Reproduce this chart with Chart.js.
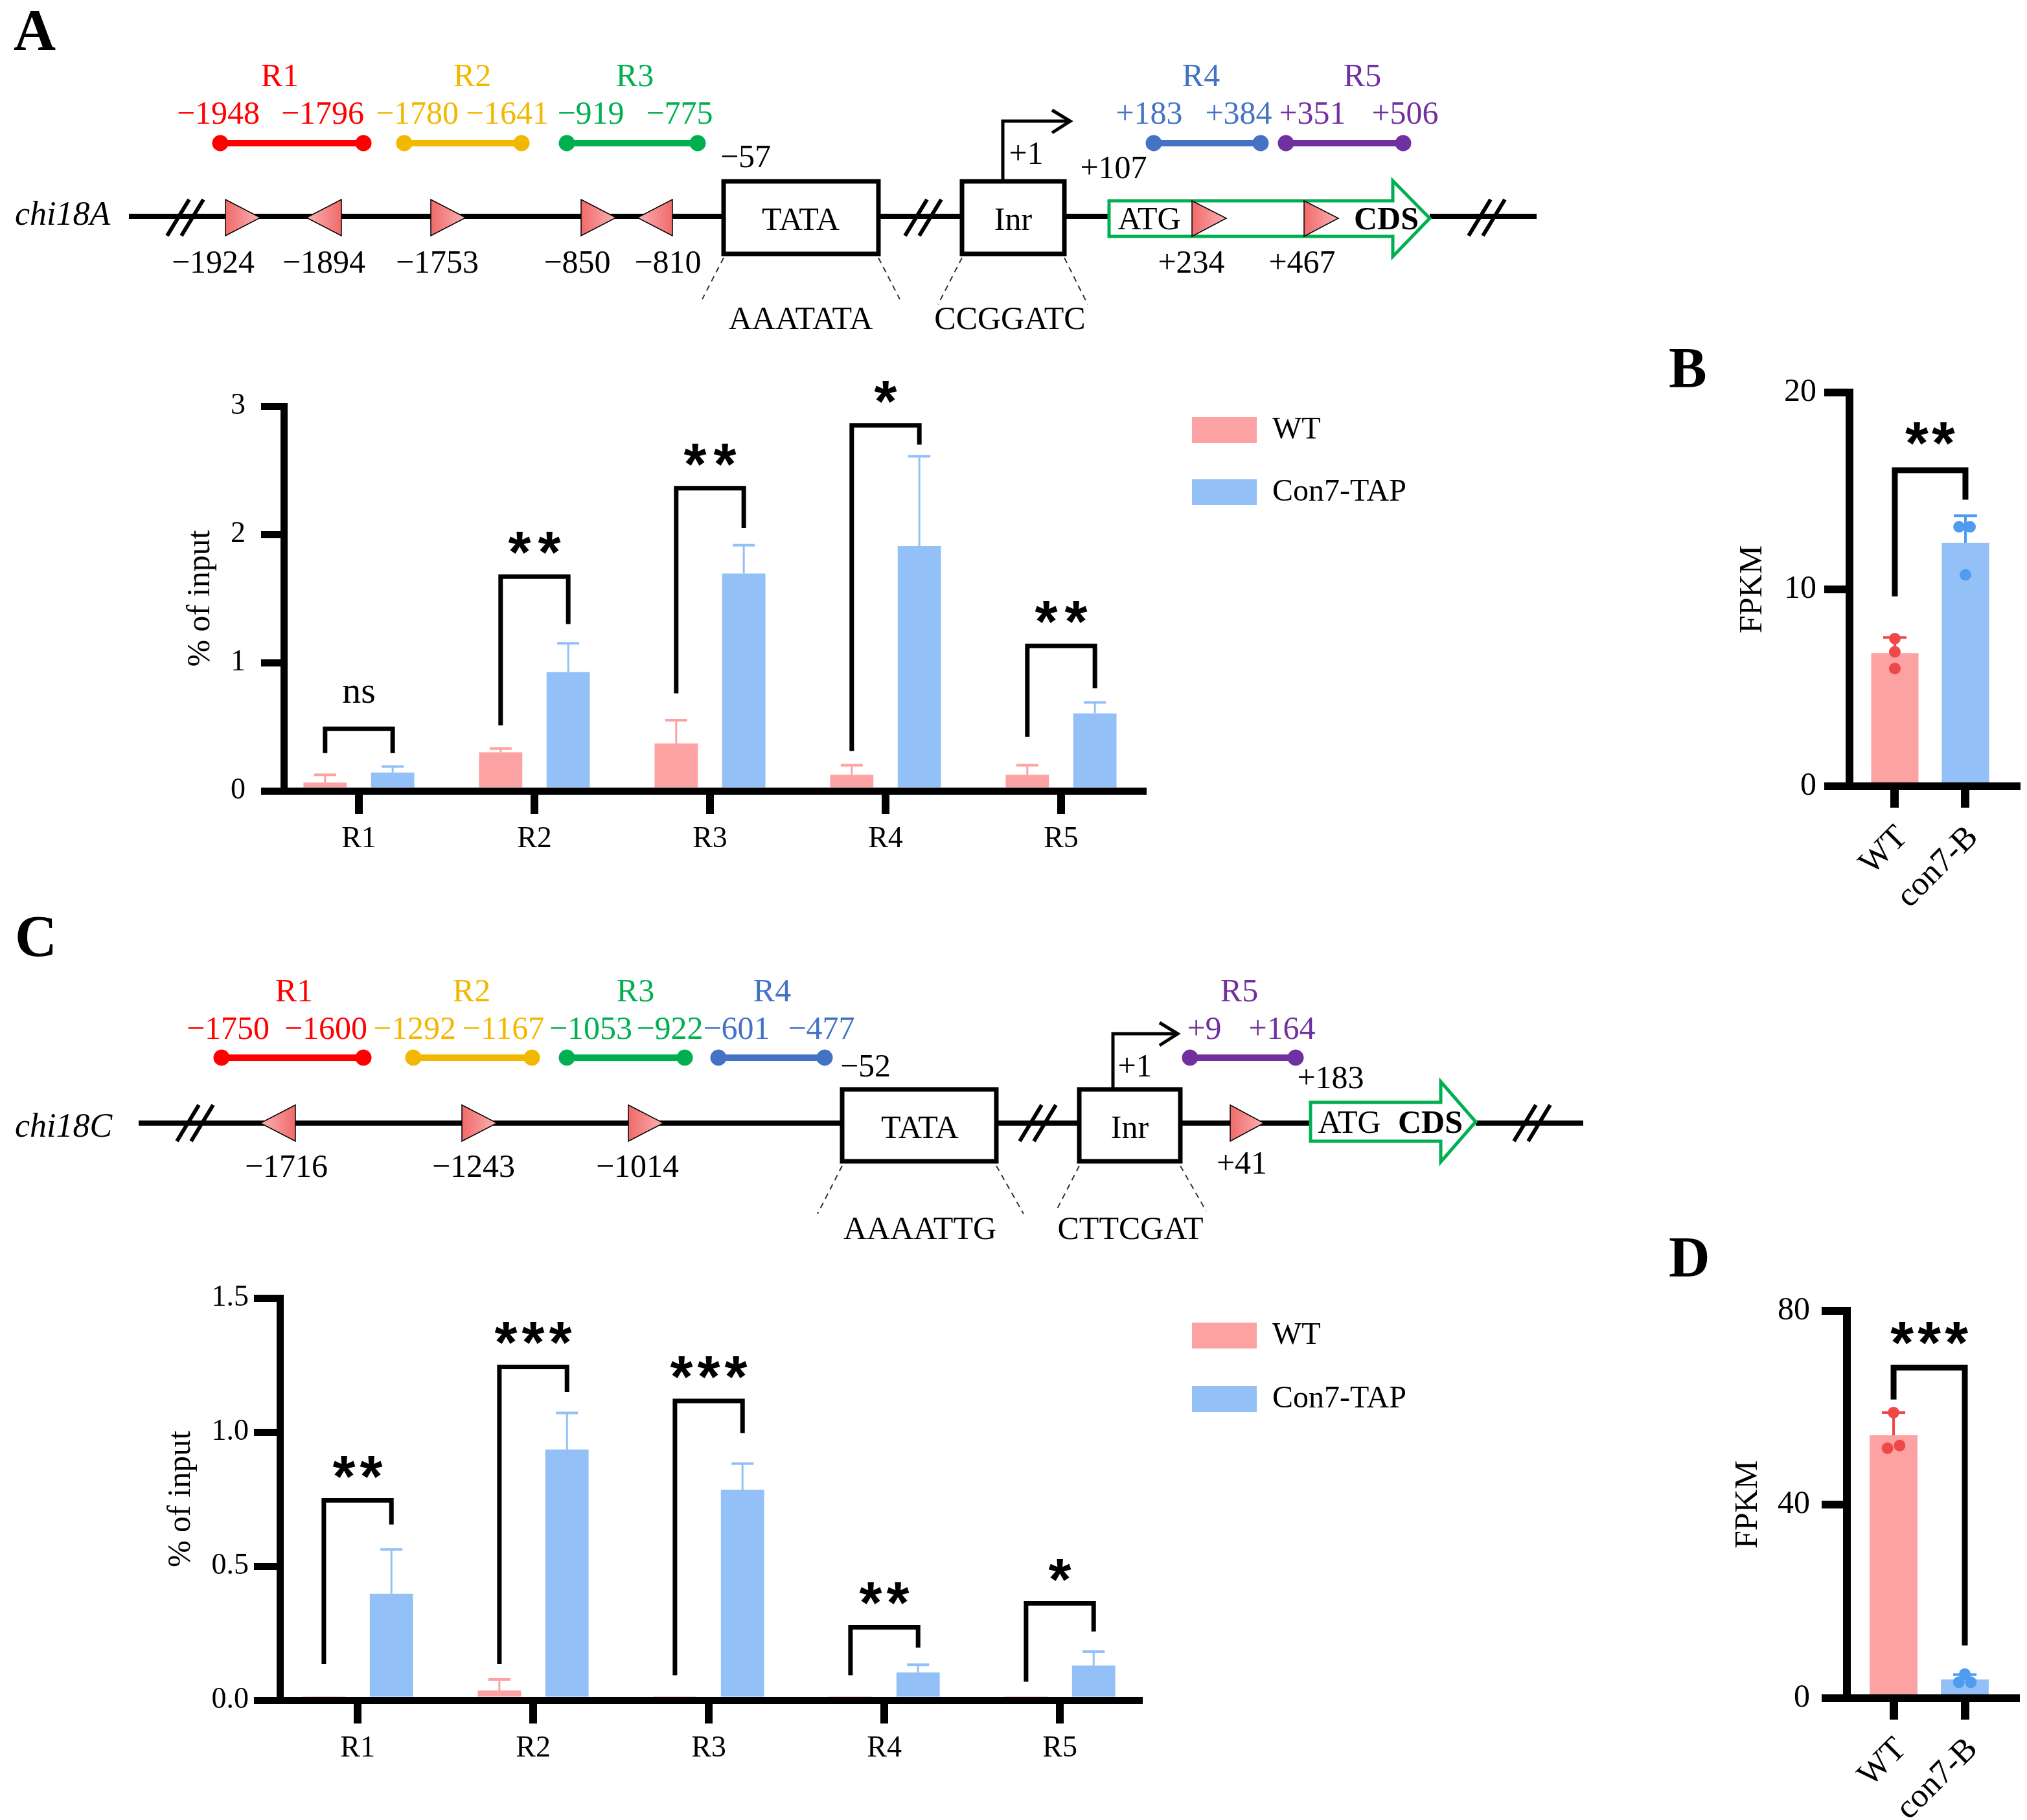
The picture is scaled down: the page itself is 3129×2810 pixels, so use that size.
<!DOCTYPE html>
<html><head><meta charset="utf-8">
<script src="https://cdn.jsdelivr.net/npm/chart.js@4/dist/chart.umd.min.js"></script>
<style>
html,body{margin:0;padding:0;background:#fff;}
#page{position:relative;width:3129px;height:2810px;background:#fff;overflow:hidden;}
canvas{position:absolute;}
#diag{position:absolute;left:0;top:0;pointer-events:none;}
</style></head><body>
<div id="page">
<canvas id="cA" width="2200" height="830" style="left:0px;top:540px;width:2200px;height:830px"></canvas>
<canvas id="cC" width="2200" height="830" style="left:0px;top:1940px;width:2200px;height:830px"></canvas>
<canvas id="cB" width="529" height="920" style="left:2600px;top:540px;width:529px;height:920px"></canvas>
<canvas id="cD" width="529" height="890" style="left:2600px;top:1920px;width:529px;height:890px"></canvas>
<svg id="diag" width="3129" height="2810" viewBox="0 0 3129 2810" font-family="'Liberation Serif','Times New Roman',serif" font-size="50">
<defs>
<linearGradient id="gR" x1="0" x2="1" y1="0" y2="0"><stop offset="0" stop-color="#F06A6A"/><stop offset="1" stop-color="#FBB2B2"/></linearGradient>
<linearGradient id="gL" x1="1" x2="0" y1="0" y2="0"><stop offset="0" stop-color="#F06A6A"/><stop offset="1" stop-color="#FBB2B2"/></linearGradient>
</defs>
<!-- ===== Panel A diagram ===== -->
<text x="21" y="77" font-size="90" font-weight="bold">A</text>
<text x="23" y="347" font-size="52" font-style="italic">chi18A</text>
<g text-anchor="middle">
<text x="432" y="133" fill="#FF0000">R1</text>
<text x="729" y="133" fill="#F2B800">R2</text>
<text x="980" y="133" fill="#00B050">R3</text>
<text x="1854" y="133" fill="#4472C4">R4</text>
<text x="2103" y="133" fill="#7030A0">R5</text>
<text x="337" y="191" fill="#FF0000">−1948</text>
<text x="498" y="191" fill="#FF0000">−1796</text>
<text x="644" y="191" fill="#F2B800">−1780</text>
<text x="783" y="191" fill="#F2B800">−1641</text>
<text x="912" y="191" fill="#00B050">−919</text>
<text x="1049" y="191" fill="#00B050">−775</text>
<text x="1774" y="191" fill="#4472C4">+183</text>
<text x="1912" y="191" fill="#4472C4">+384</text>
<text x="2026" y="191" fill="#7030A0">+351</text>
<text x="2169" y="191" fill="#7030A0">+506</text>
<text x="1151" y="258">−57</text>
<text x="1584" y="253">+1</text>
<text x="1719" y="275">+107</text>
<text x="329" y="421">−1924</text>
<text x="500" y="421">−1894</text>
<text x="675" y="421">−1753</text>
<text x="891" y="421">−850</text>
<text x="1031" y="421">−810</text>
<text x="1839" y="421">+234</text>
<text x="2010" y="421">+467</text>
<text x="1236" y="508">AAATATA</text>
<text x="1559" y="508">CCGGATC</text>
</g>
<g stroke-width="10">
<line x1="340" y1="221" x2="561" y2="221" stroke="#FF0000"/><circle cx="340" cy="221" r="12.5" fill="#FF0000"/><circle cx="561" cy="221" r="12.5" fill="#FF0000"/>
<line x1="624" y1="221" x2="805" y2="221" stroke="#F2B800"/><circle cx="624" cy="221" r="12.5" fill="#F2B800"/><circle cx="805" cy="221" r="12.5" fill="#F2B800"/>
<line x1="875" y1="221" x2="1077" y2="221" stroke="#00B050"/><circle cx="875" cy="221" r="12.5" fill="#00B050"/><circle cx="1077" cy="221" r="12.5" fill="#00B050"/>
<line x1="1781" y1="221" x2="1946" y2="221" stroke="#4472C4"/><circle cx="1781" cy="221" r="12.5" fill="#4472C4"/><circle cx="1946" cy="221" r="12.5" fill="#4472C4"/>
<line x1="1985" y1="221" x2="2166" y2="221" stroke="#7030A0"/><circle cx="1985" cy="221" r="12.5" fill="#7030A0"/><circle cx="2166" cy="221" r="12.5" fill="#7030A0"/>
</g>
<g stroke="#000" stroke-width="8">
<line x1="199" y1="334" x2="1117" y2="334"/>
<line x1="1356" y1="334" x2="1485" y2="334"/>
<line x1="1643" y1="334" x2="1712" y2="334"/>
<line x1="2207" y1="334" x2="2372" y2="334"/>
</g>
<g stroke="#000" stroke-width="6">
<line x1="258" y1="364" x2="292" y2="308"/><line x1="280" y1="364" x2="314" y2="308"/>
<line x1="1397" y1="364" x2="1431" y2="308"/><line x1="1419" y1="364" x2="1453" y2="308"/>
<line x1="2267" y1="364" x2="2301" y2="308"/><line x1="2289" y1="364" x2="2323" y2="308"/>
</g>
<g stroke="#000" stroke-width="1.5">
<polygon points="348,308 348,364 402,336" fill="url(#gR)"/>
<polygon points="527,308 527,364 473,336" fill="url(#gL)"/>
<polygon points="665,308 665,364 719,336" fill="url(#gR)"/>
<polygon points="897,308 897,364 951,336" fill="url(#gR)"/>
<polygon points="1038,308 1038,364 984,336" fill="url(#gL)"/>
</g>
<rect x="1117" y="280" width="239" height="112" fill="#fff" stroke="#000" stroke-width="7"/>
<rect x="1485" y="280" width="158" height="112" fill="#fff" stroke="#000" stroke-width="7"/>
<g text-anchor="middle">
<text x="1236" y="355">TATA</text>
<text x="1564" y="355">Inr</text>
</g>
<polyline points="1548,280 1548,187 1652,187" fill="none" stroke="#000" stroke-width="5"/>
<polyline points="1624,170 1652,187 1624,205" fill="none" stroke="#000" stroke-width="5"/>
<polygon points="1712,310 2150,310 2150,279 2207,337 2150,396 2150,365 1712,365" fill="#fff" stroke="#00B050" stroke-width="5"/>
<g stroke="#000" stroke-width="1.5">
<polygon points="1840,310 1840,365 1893,337" fill="url(#gR)"/>
<polygon points="2013,310 2013,365 2066,337" fill="url(#gR)"/>
</g>
<text x="1774" y="354" text-anchor="middle">ATG</text>
<text x="2140" y="354" text-anchor="middle" font-weight="bold">CDS</text>
<g stroke="#333" stroke-width="2" stroke-dasharray="9,7">
<line x1="1117" y1="398" x2="1084" y2="462"/>
<line x1="1356" y1="398" x2="1389" y2="462"/>
<line x1="1485" y1="398" x2="1448" y2="470"/>
<line x1="1643" y1="398" x2="1679" y2="470"/>
</g>
<!-- ===== Panel B / D letters ===== -->
<text x="2576" y="597" font-size="88" font-weight="bold">B</text>
<text x="2576" y="1970" font-size="88" font-weight="bold">D</text>
<!-- ===== Panel C diagram ===== -->
<text x="23" y="1476" font-size="90" font-weight="bold">C</text>
<text x="23" y="1755" font-size="52" font-style="italic">chi18C</text>
<g text-anchor="middle">
<text x="454" y="1546" fill="#FF0000">R1</text>
<text x="728" y="1546" fill="#F2B800">R2</text>
<text x="981" y="1546" fill="#00B050">R3</text>
<text x="1192" y="1546" fill="#4472C4">R4</text>
<text x="1913" y="1546" fill="#7030A0">R5</text>
<text x="352" y="1604" fill="#FF0000">−1750</text>
<text x="503" y="1604" fill="#FF0000">−1600</text>
<text x="640" y="1604" fill="#F2B800">−1292</text>
<text x="777" y="1604" fill="#F2B800">−1167</text>
<text x="912" y="1604" fill="#00B050">−1053</text>
<text x="1034" y="1604" fill="#00B050">−922</text>
<text x="1137" y="1604" fill="#4472C4">−601</text>
<text x="1268" y="1604" fill="#4472C4">−477</text>
<text x="1859" y="1604" fill="#7030A0">+9</text>
<text x="1979" y="1604" fill="#7030A0">+164</text>
<text x="1336" y="1662">−52</text>
<text x="1752" y="1662">+1</text>
<text x="2054" y="1680">+183</text>
<text x="442" y="1817">−1716</text>
<text x="731" y="1817">−1243</text>
<text x="984" y="1817">−1014</text>
<text x="1917" y="1812">+41</text>
<text x="1420" y="1913">AAAATTG</text>
<text x="1745" y="1913">CTTCGAT</text>
</g>
<g stroke-width="10">
<line x1="342" y1="1633" x2="561" y2="1633" stroke="#FF0000"/><circle cx="342" cy="1633" r="12.5" fill="#FF0000"/><circle cx="561" cy="1633" r="12.5" fill="#FF0000"/>
<line x1="638" y1="1633" x2="821" y2="1633" stroke="#F2B800"/><circle cx="638" cy="1633" r="12.5" fill="#F2B800"/><circle cx="821" cy="1633" r="12.5" fill="#F2B800"/>
<line x1="875" y1="1633" x2="1057" y2="1633" stroke="#00B050"/><circle cx="875" cy="1633" r="12.5" fill="#00B050"/><circle cx="1057" cy="1633" r="12.5" fill="#00B050"/>
<line x1="1109" y1="1633" x2="1273" y2="1633" stroke="#4472C4"/><circle cx="1109" cy="1633" r="12.5" fill="#4472C4"/><circle cx="1273" cy="1633" r="12.5" fill="#4472C4"/>
<line x1="1837" y1="1633" x2="2000" y2="1633" stroke="#7030A0"/><circle cx="1837" cy="1633" r="12.5" fill="#7030A0"/><circle cx="2000" cy="1633" r="12.5" fill="#7030A0"/>
</g>
<g stroke="#000" stroke-width="8">
<line x1="214" y1="1734" x2="1300" y2="1734"/>
<line x1="1538" y1="1734" x2="1666" y2="1734"/>
<line x1="1822" y1="1734" x2="2023" y2="1734"/>
<line x1="2278" y1="1734" x2="2444" y2="1734"/>
</g>
<g stroke="#000" stroke-width="6">
<line x1="273" y1="1762" x2="307" y2="1706"/><line x1="295" y1="1762" x2="329" y2="1706"/>
<line x1="1574" y1="1762" x2="1608" y2="1706"/><line x1="1596" y1="1762" x2="1630" y2="1706"/>
<line x1="2337" y1="1762" x2="2371" y2="1706"/><line x1="2359" y1="1762" x2="2393" y2="1706"/>
</g>
<g stroke="#000" stroke-width="1.5">
<polygon points="456,1706 456,1762 402,1734" fill="url(#gL)"/>
<polygon points="713,1706 713,1762 767,1734" fill="url(#gR)"/>
<polygon points="970,1706 970,1762 1024,1734" fill="url(#gR)"/>
<polygon points="1899,1706 1899,1762 1951,1734" fill="url(#gR)"/>
</g>
<rect x="1300" y="1682" width="238" height="111" fill="#fff" stroke="#000" stroke-width="7"/>
<rect x="1666" y="1682" width="156" height="111" fill="#fff" stroke="#000" stroke-width="7"/>
<g text-anchor="middle">
<text x="1420" y="1757">TATA</text>
<text x="1744" y="1757">Inr</text>
</g>
<polyline points="1718,1682 1718,1596 1818,1596" fill="none" stroke="#000" stroke-width="5"/>
<polyline points="1790,1579 1818,1596 1790,1614" fill="none" stroke="#000" stroke-width="5"/>
<polygon points="2023,1702 2224,1702 2224,1670 2278,1732 2224,1794 2224,1762 2023,1762" fill="#fff" stroke="#00B050" stroke-width="5"/>
<text x="2083" y="1749" text-anchor="middle">ATG</text>
<text x="2208" y="1749" text-anchor="middle" font-weight="bold">CDS</text>
<g stroke="#333" stroke-width="2" stroke-dasharray="9,7">
<line x1="1300" y1="1800" x2="1262" y2="1874"/>
<line x1="1538" y1="1800" x2="1580" y2="1874"/>
<line x1="1666" y1="1800" x2="1630" y2="1870"/>
<line x1="1822" y1="1800" x2="1862" y2="1870"/>
</g>
</svg>
</div>
<script>
// ===================== DATA =====================
const regions = ['R1', 'R2', 'R3', 'R4', 'R5'];
const regionPos = [1, 2, 3, 4, 5];
const seriesNames = ['WT', 'Con7-TAP'];

// Panel A (chi18A ChIP-qPCR, % of input)
const wtA = [0.065, 0.30, 0.37, 0.125, 0.125];
const wtA_sd = [0.06, 0.03, 0.18, 0.075, 0.075];
const conA = [0.143, 0.925, 1.695, 1.909, 0.604];
const conA_sd = [0.047, 0.225, 0.22, 0.70, 0.086];
const brTopA = [0.484, 1.67, 2.36, 2.85, 1.13];
const brLeftA = [0.294, 0.51, 0.76, 0.31, 0.42];
const brRightA = [0.294, 1.30, 2.05, 2.70, 0.80];
const sigA = ['ns', '**', '**', '*', '**'];

// Panel C (chi18C ChIP-qPCR, % of input)
const wtC = [0.005, 0.036, 0.004, 0.004, 0.003];
const wtC_sd = [0.003, 0.041, 0.002, 0.002, 0.001];
const conC = [0.397, 0.935, 0.785, 0.103, 0.129];
const conC_sd = [0.165, 0.136, 0.097, 0.029, 0.052];
const brTopC = [0.745, 1.243, 1.116, 0.272, 0.361];
const brLeftC = [0.135, 0.135, 0.093, 0.093, 0.069];
const brRightC = [0.655, 1.15, 0.996, 0.196, 0.256];
const sigC = ['**', '***', '***', '**', '*'];

// Panels B and D (FPKM)
const groups = ['WT', 'con7-B'];
const groupPos = [1, 2];
const fpkmB = [6.77, 12.37];
const fpkmB_sd = [0.79, 1.37];
const repsB_WT = [7.5, 6.83, 5.98];
const repsB_con = [13.18, 13.18, 10.74];
const jitterB_WT = [0, 0, 0];
const jitterB_con = [-0.09, 0.065, 0];
const brB = [16.05, 9.65, 14.56];
const sigB = '**';

const fpkmD = [54.3, 3.87];
const fpkmD_sd = [4.7, 1.0];
const repsD_WT = [59.0, 51.65, 52.2];
const repsD_con = [5.0, 3.3, 3.3];
const jitterD_WT = [0, -0.085, 0.085];
const jitterD_con = [0, -0.085, 0.085];
const brD = [68.3, 61.7, 10.9];
const sigD = '***';

// ===================== STYLE =====================
const PINK = '#FDA2A2', BLUE = '#93C0F7', RED = '#F04848', DBLUE = '#4E9BF0';
const SERIF = "'Liberation Serif','Times New Roman',serif";
Chart.defaults.font.family = SERIF;
Chart.defaults.color = '#000';
Chart.defaults.animation = false;

const legendPos = {
  id: 'legendPos',
  afterLayout(chart, args, o) {
    const lg = chart.legend;
    if (!lg || o.x == null) return;
    const lab = chart.options.plugins.legend.labels;
    const fs = lab.font.size, bh = lab.boxHeight;
    lg.left = o.x - lab.padding;
    lg.top = o.y - lab.padding - Math.max((fs - bh) / 2, 0);
    lg.right = lg.left + lg.width + 60;
    lg.bottom = lg.top + lg.height;
  }
};

const annot = {
  id: 'annot',
  afterDatasetsDraw(chart, args, o) {
    const ctx = chart.ctx, ys = chart.scales.y;
    ctx.save();
    (o.errorBars || []).forEach(eb => {
      const meta = chart.getDatasetMeta(eb.ds);
      meta.data.forEach((el, i) => {
        const v = eb.values[i], s = eb.sd[i];
        const col = Array.isArray(eb.color) ? eb.color[i] : eb.color;
        const y0 = ys.getPixelForValue(v), y1 = ys.getPixelForValue(v + s);
        ctx.strokeStyle = col; ctx.lineCap = 'butt';
        ctx.lineWidth = eb.lineWidth;
        ctx.beginPath(); ctx.moveTo(el.x, y0); ctx.lineTo(el.x, y1); ctx.stroke();
        ctx.lineWidth = eb.capWidth;
        ctx.beginPath(); ctx.moveTo(el.x - eb.cap / 2, y1); ctx.lineTo(el.x + eb.cap / 2, y1); ctx.stroke();
      });
    });
    (o.brackets || []).forEach(b => {
      const xl = chart.getDatasetMeta(b.l[0]).data[b.l[1]].x;
      const xr = chart.getDatasetMeta(b.r[0]).data[b.r[1]].x;
      const yt = ys.getPixelForValue(b.top), yl = ys.getPixelForValue(b.lb), yr = ys.getPixelForValue(b.rb);
      ctx.strokeStyle = '#000'; ctx.lineWidth = o.bracketWidth; ctx.lineJoin = 'miter'; ctx.lineCap = 'butt';
      ctx.beginPath(); ctx.moveTo(xl, yl); ctx.lineTo(xl, yt); ctx.lineTo(xr, yt); ctx.lineTo(xr, yr); ctx.stroke();
      const xm = (xl + xr) / 2, yc = yt - o.labelGap;
      ctx.fillStyle = '#000'; ctx.textAlign = 'center'; ctx.textBaseline = 'alphabetic';
      if (/^\*+$/.test(b.label)) {
        ctx.font = o.starFont;
        const n = b.label.length;
        for (let k = 0; k < n; k++) ctx.fillText('*', xm + (k - (n - 1) / 2) * o.starGap, yc + o.starDy);
      } else {
        ctx.font = o.textFont;
        ctx.fillText(b.label, xm, yc + o.textDy);
      }
    });
    ctx.restore();
  }
};

function gridStyle(tl, tw) {
  return { display: true, drawOnChartArea: false, drawTicks: true, tickLength: tl, tickWidth: tw,
           tickColor: '#000', lineWidth: tw, color: '#000', offset: false };
}

function chipChart(id, cfg) {
  return new Chart(document.getElementById(id), {
    type: 'bar',
    data: { datasets: [
      { label: seriesNames[0], data: cfg.wt.map((v, i) => ({ x: regionPos[i], y: v })),
        backgroundColor: PINK, borderWidth: 0, categoryPercentage: 0.77, barPercentage: 0.64 },
      { label: seriesNames[1], data: cfg.con.map((v, i) => ({ x: regionPos[i], y: v })),
        backgroundColor: BLUE, borderWidth: 0, categoryPercentage: 0.77, barPercentage: 0.64 }
    ] },
    options: {
      responsive: false, devicePixelRatio: 1, animation: false,
      layout: { padding: cfg.padding },
      scales: {
        x: {
          type: 'linear', min: cfg.xmin, max: cfg.xmax, offset: false,
          afterBuildTicks(s) { s.ticks = regionPos.map(v => ({ value: v })); },
          afterFit(s) { s.height = 100; },
          ticks: { autoSkip: false, minRotation: 0, maxRotation: 0, padding: 11,
                   font: { family: SERIF, size: 46 }, color: '#000',
                   callback: v => regions[Math.round(v) - 1] },
          grid: gridStyle(36, 12),
          border: { display: true, width: 11, color: '#000', z: 1 }
        },
        y: {
          min: cfg.ymin, max: cfg.ymax,
          afterBuildTicks(s) { s.ticks = cfg.yticks.map(v => ({ value: v })); },
          afterFit(s) { s.width = 200; },
          ticks: { padding: cfg.ytickPad, font: { family: SERIF, size: 46 }, color: '#000',
                   callback: cfg.yfmt },
          grid: gridStyle(cfg.ytl, 11),
          border: { display: true, width: 11, color: '#000', z: 1 },
          title: { display: true, text: '% of input', color: '#000',
                   font: { family: SERIF, size: 50 }, padding: { top: cfg.titlePad, bottom: 0 } }
        }
      },
      plugins: {
        tooltip: { enabled: false },
        legend: { display: true, position: 'chartArea', align: 'start',
                  labels: { boxWidth: 100, boxHeight: 40, padding: cfg.legPad, color: '#000',
                            font: { family: SERIF, size: 48 } } },
        legendPos: cfg.legend,
        annot: {
          errorBars: [
            { ds: 0, values: cfg.wt, sd: cfg.wtsd, color: PINK, lineWidth: 3, cap: 34, capWidth: 4 },
            { ds: 1, values: cfg.con, sd: cfg.consd, color: BLUE, lineWidth: 3, cap: 34, capWidth: 4 }
          ],
          brackets: regions.map((r, i) => ({ l: [0, i], r: [1, i], top: cfg.brTop[i], lb: cfg.brL[i], rb: cfg.brR[i], label: cfg.sig[i] })),
          bracketWidth: 7, labelGap: 46, starFont: 'bold 90px "Liberation Sans"', starGap: cfg.starGap, starDy: 40,
          textFont: '58px "Liberation Serif"', textDy: 6
        }
      }
    },
    plugins: [legendPos, annot]
  });
}

chipChart('cA', {
  wt: wtA, wtsd: wtA_sd, con: conA, consd: conA_sd, brTop: brTopA, brL: brLeftA, brR: brRightA, sig: sigA,
  padding: { left: 238, top: 87, right: 436, bottom: 49 }, xmin: 0.572, xmax: 5.465,
  ymin: 0, ymax: 3, yticks: [0, 1, 2, 3], yfmt: v => String(v), ytickPad: 24, ytl: 35, titlePad: 42,
  legend: { x: 1840, y: 104 }, legPad: 48, starGap: 46
});
chipChart('cC', {
  wt: wtC, wtsd: wtC_sd, con: conC, consd: conC_sd, brTop: brTopC, brL: brLeftC, brR: brRightC, sig: sigC,
  padding: { left: 232, top: 64, right: 442, bottom: 45 }, xmin: 0.557, xmax: 5.45,
  ymin: 0, ymax: 1.5, yticks: [0, 0.5, 1.0, 1.5], yfmt: v => v.toFixed(1), ytickPad: 8, ytl: 40, titlePad: 18,
  legend: { x: 1840, y: 102 }, legPad: 50, starGap: 42
});

function fpkmChart(id, cfg) {
  const dots = [], dotCols = [];
  cfg.repsWT.forEach((v, k) => { dots.push({ x: groupPos[0] + cfg.jitWT[k], y: v }); dotCols.push(RED); });
  cfg.repsCon.forEach((v, k) => { dots.push({ x: groupPos[1] + cfg.jitCon[k], y: v }); dotCols.push(DBLUE); });
  return new Chart(document.getElementById(id), {
    type: 'bar',
    data: { datasets: [
      { type: 'bar', label: 'FPKM', order: 2, data: cfg.vals.map((v, i) => ({ x: groupPos[i], y: v })),
        backgroundColor: [PINK, BLUE], borderWidth: 0, categoryPercentage: 1, barPercentage: 0.67 },
      { type: 'scatter', label: 'replicates', order: 1, data: dots, pointBackgroundColor: dotCols,
        pointBorderWidth: 0, pointRadius: 9 }
    ] },
    options: {
      responsive: false, devicePixelRatio: 1, animation: false,
      layout: { padding: cfg.padding },
      scales: {
        x: {
          type: 'linear', min: cfg.xmin, max: cfg.xmax, offset: false,
          afterBuildTicks(s) { s.ticks = groupPos.map(v => ({ value: v })); },
          afterFit(s) { s.height = cfg.xh; },
          ticks: { autoSkip: false, minRotation: 45, maxRotation: 45, padding: 16, labelOffset: 12,
                   font: { family: SERIF, size: 52 }, color: '#000',
                   callback: v => groups[Math.round(v) - 1] },
          grid: gridStyle(33, 13),
          border: { display: true, width: 12, color: '#000', z: 1 }
        },
        y: {
          min: 0, max: cfg.ymax,
          afterBuildTicks(s) { s.ticks = cfg.yticks.map(v => ({ value: v })); },
          afterFit(s) { s.width = 200; },
          ticks: { padding: cfg.ytickPad, font: { family: SERIF, size: 50 }, color: '#000' },
          grid: gridStyle(39, 12),
          border: { display: true, width: 12, color: '#000', z: 1 },
          title: { display: true, text: 'FPKM', color: '#000', font: { family: SERIF, size: 50 },
                   padding: { top: cfg.titlePad, bottom: 0 } }
        }
      },
      plugins: {
        tooltip: { enabled: false },
        legend: { display: false },
        annot: {
          errorBars: [{ ds: 0, values: cfg.vals, sd: cfg.sd, color: [RED, DBLUE], lineWidth: 4, cap: 36, capWidth: 4 }],
          brackets: [{ l: [0, 0], r: [0, 1], top: cfg.br[0], lb: cfg.br[1], rb: cfg.br[2], label: cfg.sig }],
          bracketWidth: 9, labelGap: cfg.labelGap, starFont: 'bold 92px "Liberation Sans"', starGap: cfg.starGap, starDy: 41,
          textFont: '58px "Liberation Serif"', textDy: 6
        }
      }
    },
    plugins: [annot]
  });
}

fpkmChart('cB', {
  vals: fpkmB, sd: fpkmB_sd, repsWT: repsB_WT, repsCon: repsB_con, jitWT: jitterB_WT, jitCon: jitterB_con,
  br: brB, sig: sigB, padding: { left: 55, top: 66, right: 17, bottom: 6 }, xmin: 0.358, xmax: 2.716, xh: 240,
  ymax: 20, yticks: [0, 10, 20], ytickPad: 12, titlePad: 21, starGap: 41, labelGap: 51
});
fpkmChart('cD', {
  vals: fpkmD, sd: fpkmD_sd, repsWT: repsD_WT, repsCon: repsD_con, jitWT: jitterD_WT, jitCon: jitterD_con,
  br: brD, sig: sigD, padding: { left: 51, top: 104, right: 18, bottom: 0 }, xmin: 0.345, xmax: 2.709, xh: 188,
  ymax: 80, yticks: [0, 40, 80], ytickPad: 18, titlePad: 18, starGap: 42, labelGap: 47
});
</script>
</body></html>
